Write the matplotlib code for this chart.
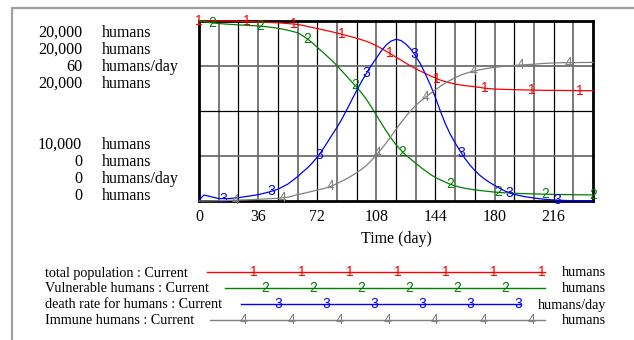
import numpy as np
import matplotlib
matplotlib.use("Agg")
import matplotlib.pyplot as plt
from matplotlib.patches import Rectangle
from matplotlib.lines import Line2D

# ---------------- data ----------------
days = [0, 3, 6, 12, 18, 24, 30, 36, 42, 48, 54,
        60, 63, 66, 69, 72, 75, 78, 81, 84, 87, 90, 93, 96, 99, 102, 105, 108, 111,
        114, 117, 120, 123, 126, 129, 132, 135, 138, 141, 144, 147, 150, 153, 156,
        159, 162, 165, 168, 171, 174, 177, 180,
        186, 192, 198, 204, 210, 216, 222, 228, 234, 240]

total_population = [20000, 20000, 20000, 20000, 20000, 19990, 19970, 19950, 19930, 19900, 19860,
                    19810, 19760, 19700, 19640, 19580, 19520, 19460, 19400, 19330, 19260,
                    19190, 19120, 19040, 18960, 18870, 18760, 18630, 18480, 18320, 18160,
                    17990, 17830, 17660, 17500, 17350, 17210, 17080, 16950, 16830, 16720,
                    16630, 16560, 16500, 16450, 16410, 16380, 16350, 16310, 16270, 16240,
                    16220,
                    16200, 16185, 16170, 16160, 16150, 16145, 16140, 16135, 16130, 16130]

vulnerable_humans = [20000, 19940, 19830, 19720, 19640, 19570, 19510, 19450, 19350, 19200, 18980,
                     18700, 18380, 18020, 17580, 17090, 16600, 16100, 15600, 15050, 14450,
                     13850, 13250, 12650, 12000, 11280, 10450, 9550, 8650, 7800, 6980,
                     6250, 5650, 5100, 4650, 4200, 3750, 3350, 2950, 2620, 2350,
                     2100, 1860, 1680, 1530, 1410, 1320, 1240, 1170, 1110, 1050,
                     990,
                     910, 860, 820, 790, 760, 735, 715, 700, 685, 670]

death_rate = [0.3, 2.0, 1.6, 0.8, 0.8, 1.1, 1.6, 2.1, 2.9, 3.9, 5.6,
              8.1, 9.6, 11.0, 12.7, 14.6, 16.8, 19.4, 22.0, 24.5, 27.3,
              30.4, 33.6, 36.8, 39.8, 42.6, 45.2, 47.6, 50.0, 52.0, 53.3,
              53.9, 53.5, 52.3, 50.6, 48.3, 45.6, 42.2, 38.6, 34.5, 30.0,
              25.8, 22.3, 19.4, 16.7, 14.2, 12.0, 10.2, 8.6, 7.3, 6.2,
              5.2,
              3.4, 2.2, 1.5, 1.0, 0.6, 0.35, 0.2, 0.1, 0.05, 0.0]

immune_humans = [0, 0, 10, 30, 60, 100, 140, 190, 240, 300, 420,
                 700, 820, 950, 1080, 1220, 1340, 1480, 1680, 1930, 2200,
                 2480, 2800, 3150, 3520, 3950, 4500, 5100, 5750, 6450, 7200,
                 7950, 8700, 9400, 10050, 10620, 11100, 11530, 11950, 12350, 12750,
                 13100, 13420, 13700, 13950, 14150, 14320, 14460, 14580, 14680, 14770,
                 14850,
                 14980, 15070, 15130, 15200, 15290, 15340, 15370, 15380, 15390, 15400]

series_names = ["total population : Current", "Vulnerable humans : Current",
                "death rate for humans : Current", "Immune humans : Current"]
series_units = ["humans", "humans", "humans/day", "humans"]
series_ids = ["1", "2", "3", "4"]
series_min = [10000, 0, 0, 0]
series_max = [20000, 20000, 60, 20000]
series_colors = ["#ff0000", "#008000", "#0000ff", "#808080"]

x_ticks = [0, 36, 72, 108, 144, 180, 216]
x_label = "Time (day)"

# ---------------- layout helpers ----------------
W, H = 634, 340
def fx(px):
    return px / W
def fy(py):
    return 1 - py / H

SERIF = ["Liberation Serif", "DejaVu Serif"]
SANS = ["Liberation Sans", "DejaVu Sans"]

fig = plt.figure(figsize=(W / 100, H / 100), dpi=100)
fig.patch.set_facecolor("white")

# outer grey frame
fig.add_artist(Rectangle((fx(12), fy(345)), fx(640) - fx(12), fy(8) - fy(345),
                         transform=fig.transFigure, fill=False,
                         edgecolor="#a0a0a0", linewidth=1.6))

left, right, top, bottom = 199, 593, 21, 201
ax = fig.add_axes([fx(left), fy(bottom), fx(right) - fx(left), fy(top) - fy(bottom)])
ax.set_xlim(0, 240)
ax.set_ylim(series_min[0], series_max[0])
ax.set_facecolor("white")

# grid
for d in np.arange(12, 240, 12):
    if d % 24 == 0:
        ax.axvline(d, color="black", lw=0.9, zorder=1)
    else:
        ax.axvline(d, color="#6e6e6e", lw=1.3, zorder=1)
yr = series_max[0] - series_min[0]
for frac in [0.25, 0.5, 0.75]:
    if frac == 0.5:
        ax.axhline(series_min[0] + frac * yr, color="black", lw=0.9, zorder=1)
    else:
        ax.axhline(series_min[0] + frac * yr, color="#6e6e6e", lw=1.3, zorder=1)

for s in ax.spines.values():
    s.set_linewidth(2.0)
    s.set_color("black")
ax.set_yticks([])
ax.set_xticks(x_ticks)
ax.set_xticklabels([str(t) for t in x_ticks], family=SERIF, fontsize=11.4)
ax.tick_params(axis="x", length=0, pad=6)
fig.text((fx(left) + fx(right)) / 2, fy(243), x_label, family=SERIF, fontsize=11.4,
         ha="center", va="baseline")

# series axes
data = [total_population, vulnerable_humans, death_rate, immune_humans]
offsets = [0, 8, 15, 22]
for k in range(4):
    a = ax.twinx()
    a.set_ylim(series_min[k], series_max[k])
    a.set_xlim(0, 240)
    a.set_yticks([])
    for s in a.spines.values():
        s.set_visible(False)
    a.patch.set_visible(False)
    a.plot(days, data[k], color=series_colors[k], lw=0.9, clip_on=False, zorder=3)
    md = np.arange(offsets[k], 240.5, 29)
    mv = np.interp(md, days, data[k])
    for d, v in zip(md, mv):
        a.text(d, v, series_ids[k], color=series_colors[k], family=SANS,
               fontsize=10, ha="center", va="center", clip_on=False, zorder=4)

# y-axis scale labels (left)
top_base = [37, 54, 71, 88]
bot_base = [149, 166, 183, 200]
def fmt(v):
    return f"{v:,.0f}"
for k in range(4):
    fig.text(fx(82), fy(top_base[k]), fmt(series_max[k]), family=SERIF, fontsize=11.6,
             ha="right", va="baseline")
    fig.text(fx(102), fy(top_base[k]), series_units[k], family=SERIF, fontsize=11.4,
             ha="left", va="baseline")
    fig.text(fx(82), fy(bot_base[k]), fmt(series_min[k]), family=SERIF, fontsize=11.6,
             ha="right", va="baseline")
    fig.text(fx(102), fy(bot_base[k]), series_units[k], family=SERIF, fontsize=11.4,
             ha="left", va="baseline")

# legend
leg_base = [276.5, 292.5, 308.5, 324.5]
leg_line_y = [271.5, 288, 304, 320]
leg_line_x0 = [207, 225, 241, 210]
leg_line_x1 = [545, 545, 521, 545]
leg_mark_x0 = [254, 265, 278, 243]
leg_mark_n = [7, 6, 6, 7]
for k in range(4):
    fig.text(fx(45), fy(leg_base[k]), series_names[k], family=SERIF, fontsize=10.2,
             ha="left", va="baseline")
    fig.text(fx(606), fy(leg_base[k]), series_units[k], family=SERIF, fontsize=10.2,
             ha="right", va="baseline")
    fig.add_artist(Line2D([fx(leg_line_x0[k]), fx(leg_line_x1[k])],
                          [fy(leg_line_y[k]), fy(leg_line_y[k])],
                          transform=fig.transFigure, color=series_colors[k], lw=1.0))
    for j in range(leg_mark_n[k]):
        xm = leg_mark_x0[k] + 48 * j
        fig.text(fx(xm), fy(leg_line_y[k]), series_ids[k], color=series_colors[k],
                 family=SANS, fontsize=10, ha="center", va="center")

fig.savefig("out.png", dpi=100, facecolor="white")
